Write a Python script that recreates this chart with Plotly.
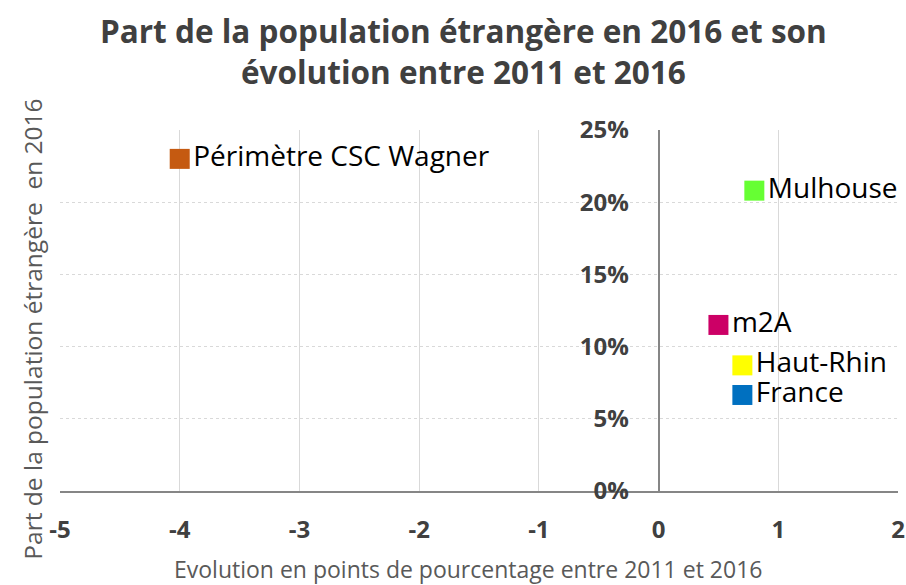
import plotly.graph_objects as go

names = ["Périmètre CSC Wagner", "Mulhouse", "m2A", "Haut-Rhin", "France"]
evolution = [-4.0, 0.8, 0.5, 0.7, 0.7]
part_2016 = [0.230, 0.208, 0.115, 0.087, 0.0665]
colors = ["#C55A11", "#66FF33", "#CC0066", "#FFFF00", "#0070C0"]

x_ticks = [-5, -4, -3, -2, -1, 0, 1, 2]
x_tick_text = ["-5", "-4", "-3", "-2", "-1", "0", "1", "2"]
y_ticks = [0, 0.05, 0.10, 0.15, 0.20, 0.25]

FONT = "Open Sans"
GREY = "#404040"

fig = go.Figure()
for n, x, y, c in zip(names, evolution, part_2016, colors):
    fig.add_trace(go.Scatter(
        x=[x], y=[y], mode="markers+text", text=[n],
        textposition="middle right",
        textfont=dict(family=FONT, size=28, color="#000000"),
        marker=dict(symbol="square", size=20, color=c),
        showlegend=False, cliponaxis=False,
    ))

fig.update_layout(
    width=906, height=585,
    margin=dict(l=60, r=8, t=130, b=94),
    paper_bgcolor="white", plot_bgcolor="white",
    xaxis=dict(
        range=[-5, 2], domain=[0, 1], tickvals=x_ticks, ticktext=x_tick_text,
        showgrid=True, gridcolor="#D9D9D9", gridwidth=1,
        zeroline=False, showline=True, linecolor="#868686", linewidth=2,
        ticks="", ticklabelstandoff=16, automargin=False,
        tickfont=dict(family=FONT, size=24, color=GREY, weight="bold"),
    ),
    yaxis=dict(
        range=[0, 0.25], tickvals=y_ticks, tickformat=".0%",
        anchor="free", position=5/7, automargin=False,
        showgrid=True, gridcolor="#D9D9D9", gridwidth=1, griddash="dot",
        zeroline=False, showline=True, linecolor="#868686", linewidth=2,
        ticks="", ticklabelstandoff=24,
        tickfont=dict(family=FONT, size=24, color=GREY, weight="bold"),
    ),
    annotations=[
        dict(
            text="<b>Part de la population étrangère en 2016 et son<br>évolution entre 2011 et 2016</b>",
            xref="paper", yref="paper", x=0.481, y=1.219,
            xanchor="center", yanchor="middle", showarrow=False,
            font=dict(family=FONT, size=31.5, color=GREY),
        ),
        dict(
            text="Evolution en points de pourcentage entre 2011 et 2016",
            xref="paper", yref="paper", x=0.487, y=-0.216,
            xanchor="center", yanchor="middle", showarrow=False,
            font=dict(family=FONT, size=23, color="#595959"),
        ),
        dict(
            text="Part de la population étrangère  en 2016",
            xref="paper", yref="paper", x=0, y=0.447, xshift=-27,
            xanchor="center", yanchor="middle", textangle=-90, showarrow=False,
            font=dict(family=FONT, size=24.5, color="#595959"),
        ),
    ],
)

fig.write_html("out.html", config={"displayModeBar": False},
               post_script="document.body.style.margin='0';")
